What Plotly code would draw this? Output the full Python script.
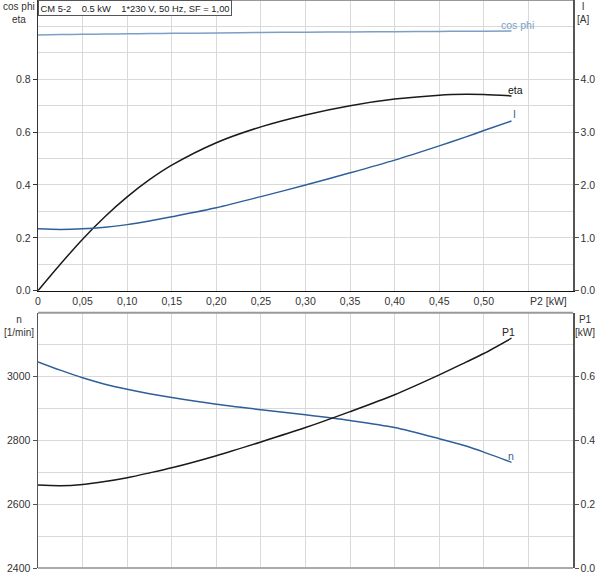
import plotly.graph_objects as go

# ---- data ----
p2 = [0.0, 0.025, 0.05, 0.075, 0.10, 0.125, 0.15, 0.20, 0.25, 0.30, 0.35, 0.40, 0.45, 0.48, 0.50, 0.531]
eta = [0.0, 0.10, 0.195, 0.28, 0.355, 0.42, 0.475, 0.56, 0.62, 0.665, 0.70, 0.725, 0.74, 0.743, 0.742, 0.737]
cur = [1.17, 1.16, 1.17, 1.20, 1.25, 1.32, 1.40, 1.57, 1.78, 2.00, 2.23, 2.47, 2.74, 2.91, 3.03, 3.21]
cosphi = [0.968, 0.969, 0.970, 0.971, 0.972, 0.973, 0.974, 0.975, 0.977, 0.978, 0.979, 0.980, 0.981, 0.982, 0.982, 0.983]
speed = [3046, 3020, 2996, 2976, 2960, 2946, 2934, 2913, 2896, 2880, 2862, 2840, 2805, 2782, 2763, 2731]
p1 = [0.260, 0.258, 0.262, 0.271, 0.283, 0.298, 0.314, 0.352, 0.395, 0.440, 0.490, 0.543, 0.605, 0.645, 0.672, 0.720]

x_ticks = [0, 0.05, 0.10, 0.15, 0.20, 0.25, 0.30, 0.35, 0.40, 0.45, 0.50]
x_ticktext = ["0", "0,05", "0,10", "0,15", "0,20", "0,25", "0,30", "0,35", "0,40", "0,45", "0,50"]
x_grid_extra = [0.55]
eta_ticks = [0.0, 0.2, 0.4, 0.6, 0.8]
eta_grid_extra = [0.1, 0.3, 0.5, 0.7, 0.9, 1.0]
i_ticks = [0.0, 1.0, 2.0, 3.0, 4.0]
n_ticks = [2400, 2600, 2800, 3000]
n_grid_extra = [2500, 2700, 2900, 3100]
p1_ticks = [0.0, 0.2, 0.4, 0.6]
title_text = "CM 5-2\u00a0\u00a0\u00a0 0.5 kW\u00a0\u00a0\u00a0 1*230 V, 50 Hz, SF = 1,00"

BLUE = "#2f5f98"
LIGHTBLUE = "#7d9fc6"
GRID = "#d9d9d9"
FONT = "Liberation Sans, Arial, sans-serif"
TXT = "#333333"

top_dom = [0.4882, 1.0]
bot_dom = [0.0, 0.4495]

fig = go.Figure()
line_kw = dict(shape="spline", smoothing=0.8)
fig.add_trace(go.Scatter(x=p2, y=cosphi, mode="lines", line=dict(color=LIGHTBLUE, width=1.5, **line_kw),
                         xaxis="x", yaxis="y", hoverinfo="skip"))
fig.add_trace(go.Scatter(x=p2, y=eta, mode="lines", line=dict(color="#1a1a1a", width=1.5, **line_kw),
                         xaxis="x", yaxis="y", hoverinfo="skip"))
fig.add_trace(go.Scatter(x=p2, y=cur, mode="lines", line=dict(color=BLUE, width=1.5, **line_kw),
                         xaxis="x", yaxis="y2", hoverinfo="skip"))
fig.add_trace(go.Scatter(x=p2, y=speed, mode="lines", line=dict(color=BLUE, width=1.5, **line_kw),
                         xaxis="x2", yaxis="y3", hoverinfo="skip"))
fig.add_trace(go.Scatter(x=p2, y=p1, mode="lines", line=dict(color="#1a1a1a", width=1.5, **line_kw),
                         xaxis="x2", yaxis="y4", hoverinfo="skip"))
fig.add_trace(go.Scatter(x=[None], y=[None], xaxis="x", yaxis="y5", showlegend=False, hoverinfo="skip"))
fig.add_trace(go.Scatter(x=[None], y=[None], xaxis="x2", yaxis="y6", showlegend=False, hoverinfo="skip"))

tickfont = dict(family=FONT, size=10.5, color=TXT)

fig.update_layout(
    width=600, height=581,
    margin=dict(l=38, r=27, t=0, b=13, pad=0, autoexpand=False),
    paper_bgcolor="white", plot_bgcolor="rgba(0,0,0,0)",
    showlegend=False,
    font=dict(family=FONT, size=10.5, color=TXT),
    xaxis=dict(domain=[0, 1], range=[0, 0.6], anchor="y", automargin=False,
               tickmode="array", tickvals=x_ticks + x_grid_extra, ticktext=x_ticktext + [""],
               showgrid=True, gridcolor=GRID, gridwidth=1,
               showline=True, linecolor="#111111", linewidth=1.2,
               ticks="", tickfont=tickfont, zeroline=False),
    yaxis=dict(domain=top_dom, range=[0, 1.1], anchor="x", automargin=False,
               tickmode="array", tickvals=eta_ticks, tickformat=".1f",
               showgrid=True, gridcolor=GRID, gridwidth=1,
               showline=True, linecolor="#333333", linewidth=1.2,
               ticks="outside", ticklen=4, tickcolor="#333333", tickfont=tickfont, zeroline=False),
    yaxis5=dict(domain=top_dom, range=[0, 1.1], anchor="x", overlaying="y", automargin=False,
                tickmode="array", tickvals=eta_grid_extra, showticklabels=False,
                showgrid=True, gridcolor=GRID, gridwidth=1, showline=False, ticks="", zeroline=False),
    yaxis2=dict(domain=top_dom, range=[0, 5.5], anchor="x", overlaying="y", side="right", automargin=False,
                tickmode="array", tickvals=i_ticks, tickformat=".1f",
                showgrid=False, showline=True, linecolor="#555555", linewidth=1.5,
                ticks="outside", ticklen=4, tickcolor="#555555", tickfont=tickfont, zeroline=False),
    xaxis2=dict(domain=[0, 1], range=[0, 0.6], anchor="y3", automargin=False,
                tickmode="array", tickvals=x_ticks + x_grid_extra, showticklabels=False,
                showgrid=True, gridcolor=GRID, gridwidth=1,
                showline=False, ticks="", zeroline=False),
    yaxis3=dict(domain=bot_dom, range=[2400, 3200], anchor="x2", automargin=False,
                tickmode="array", tickvals=n_ticks,
                showgrid=True, gridcolor=GRID, gridwidth=1,
                showline=True, linecolor="#555555", linewidth=1.5,
                ticks="outside", ticklen=4, tickcolor="#555555", tickfont=tickfont, zeroline=False),
    yaxis6=dict(domain=bot_dom, range=[2400, 3200], anchor="x2", overlaying="y3", automargin=False,
                tickmode="array", tickvals=n_grid_extra, showticklabels=False,
                showgrid=True, gridcolor=GRID, gridwidth=1, showline=False, ticks="", zeroline=False),
    yaxis4=dict(domain=bot_dom, range=[0, 0.8], anchor="x2", overlaying="y3", side="right", automargin=False,
                tickmode="array", tickvals=p1_ticks, tickformat=".1f",
                showgrid=False, showline=True, linecolor="#555555", linewidth=1.5,
                ticks="outside", ticklen=4, tickcolor="#555555", tickfont=tickfont, zeroline=False),
)

fig.add_shape(type="line", xref="paper", yref="paper", x0=0, x1=1, y0=top_dom[1], y1=top_dom[1],
              line=dict(color="#999999", width=2), layer="above")
fig.add_shape(type="line", xref="paper", yref="paper", x0=0, x1=1, y0=bot_dom[1], y1=bot_dom[1],
              line=dict(color="#999999", width=2), layer="above")
fig.add_shape(type="line", xref="paper", yref="paper", x0=0, x1=1, y0=bot_dom[0], y1=bot_dom[0],
              line=dict(color="#aaaaaa", width=2), layer="above")

ann_font = dict(family=FONT, size=10, color=TXT)
lab_size = 10.5
annotations = [
    dict(text=title_text, xref="paper", yref="paper", x=0, y=1, xanchor="left", yanchor="top",
         showarrow=False, bgcolor="white", bordercolor="#555555", borderwidth=1, borderpad=1.5,
         font=dict(family=FONT, size=9.4, color="#222222")),
    dict(text="cos phi<br>eta", xref="paper", yref="paper", x=0, y=1, xanchor="center", yanchor="top",
         xshift=-19, yshift=1, showarrow=False, font=ann_font),
    dict(text="I<br>[A]", xref="paper", yref="paper", x=1, y=1, xanchor="center", yanchor="top",
         xshift=10, yshift=1, showarrow=False, font=ann_font),
    dict(text="n<br>[1/min]", xref="paper", yref="paper", x=0, y=bot_dom[1], xanchor="center", yanchor="top",
         xshift=-19, yshift=1, showarrow=False, font=ann_font),
    dict(text="P1<br>[kW]", xref="paper", yref="paper", x=1, y=bot_dom[1], xanchor="center", yanchor="top",
         xshift=12, yshift=1, showarrow=False, font=ann_font),
    dict(text="P2 [kW]", xref="paper", yref="paper", x=1, y=top_dom[0], xanchor="right", yanchor="top",
         xshift=-4, yshift=-2, showarrow=False, font=dict(family=FONT, size=10.5, color=TXT)),
    dict(text="cos phi", xref="x", yref="y", x=p2[-1], y=cosphi[-1], xanchor="center", yanchor="middle",
         xshift=6, yshift=6, showarrow=False, font=dict(family=FONT, size=lab_size, color=LIGHTBLUE)),
    dict(text="eta", xref="x", yref="y", x=p2[-1], y=eta[-1], xanchor="center", yanchor="middle",
         xshift=4, yshift=6, showarrow=False, font=dict(family=FONT, size=lab_size, color="#111111")),
    dict(text="I", xref="x", yref="y2", x=p2[-1], y=cur[-1], xanchor="center", yanchor="middle",
         xshift=3, yshift=7, showarrow=False, font=dict(family=FONT, size=lab_size, color=BLUE)),
    dict(text="P1", xref="x2", yref="y4", x=p2[-1], y=p1[-1], xanchor="center", yanchor="middle",
         xshift=-3, yshift=6, showarrow=False, font=dict(family=FONT, size=lab_size, color="#222222")),
    dict(text="n", xref="x2", yref="y3", x=p2[-1], y=speed[-1], xanchor="center", yanchor="middle",
         xshift=0, yshift=6, showarrow=False, font=dict(family=FONT, size=lab_size, color=BLUE)),
]
fig.update_layout(annotations=annotations)

fig.write_html("out.html",
               config={"displayModeBar": False, "staticPlot": True},
               post_script="document.body.style.margin='0';document.body.style.padding='0';"
                           "document.body.style.overflow='hidden';")
